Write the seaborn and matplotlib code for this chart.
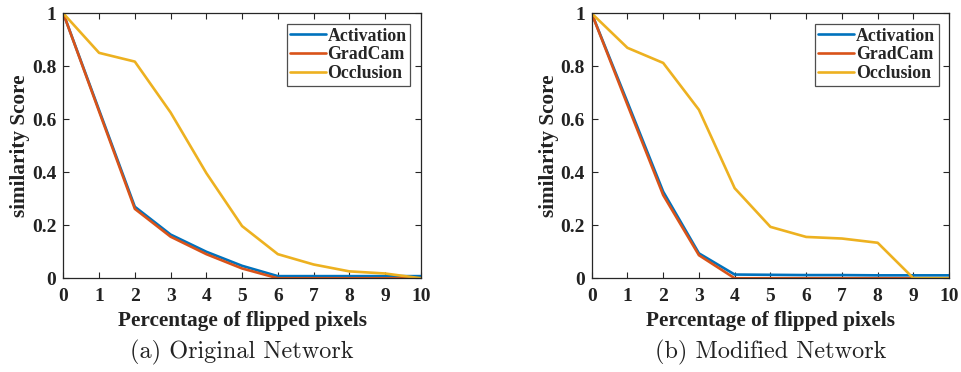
import numpy as np
import pandas as pd
import matplotlib
matplotlib.use("Agg")
import matplotlib.pyplot as plt
import seaborn as sns

# Data
pct = list(range(11))
methods = ["Activation", "GradCam", "Occlusion"]

orig_activation = [1.0, 0.635, 0.27, 0.165, 0.10, 0.047, 0.008, 0.008, 0.008, 0.008, 0.008]
orig_gradcam = [1.0, 0.63, 0.262, 0.157, 0.091, 0.037, 0.0, 0.0, 0.0, 0.0, 0.0]
orig_occlusion = [1.0, 0.851, 0.818, 0.626, 0.397, 0.197, 0.091, 0.052, 0.026, 0.018, 0.0]

mod_activation = [1.0, 0.665, 0.327, 0.094, 0.014, 0.013, 0.012, 0.012, 0.011, 0.011, 0.011]
mod_gradcam = [1.0, 0.655, 0.314, 0.087, 0.0, 0.0, 0.0, 0.0, 0.0, 0.0, 0.0]
mod_occlusion = [1.0, 0.87, 0.813, 0.636, 0.34, 0.194, 0.156, 0.15, 0.134, 0.0, 0.0]

captions = ["(a) Original Network", "(b) Modified Network"]
colors = ["#0072BD", "#D95319", "#EDB120"]


def to_long(series):
    rows = []
    for name, vals in zip(methods, series):
        for x, v in zip(pct, vals):
            rows.append({"pct": x, "score": v, "method": name})
    return pd.DataFrame(rows)


sns.set_theme(style="white")
plt.rcParams["font.family"] = ["Liberation Serif", "DejaVu Serif"]
plt.rcParams["font.weight"] = "bold"

fig = plt.figure(figsize=(9.61, 3.72), dpi=100)
panels = [
    (0.0659, [orig_activation, orig_gradcam, orig_occlusion]),
    (0.6157, [mod_activation, mod_gradcam, mod_occlusion]),
]

for (left, series), cap in zip(panels, captions):
    ax = fig.add_axes([left, 0.252, 0.372, 0.712])
    df = to_long(series)
    sns.lineplot(data=df, x="pct", y="score", hue="method", hue_order=methods,
                 palette=colors, linewidth=1.9, ax=ax, legend=True)
    ax.set_xlim(0, 10)
    ax.set_ylim(0, 1)
    ax.set_xticks(pct)
    ax.set_xticklabels([str(p) for p in pct], fontsize=14, fontweight="bold")
    ax.set_yticks([0, 0.2, 0.4, 0.6, 0.8, 1])
    ax.set_yticklabels(["0", "0.2", "0.4", "0.6", "0.8", "1"], fontsize=14, fontweight="bold")
    ax.tick_params(direction="in", length=4, width=0.8, top=True, right=True,
                   bottom=True, left=True, colors="#262626", labelcolor="#222222", pad=5)
    ax.tick_params(axis="x", pad=7)
    for sp in ax.spines.values():
        sp.set_color("#262626")
        sp.set_linewidth(0.9)
    ax.set_xlabel("Percentage of flipped pixels", fontsize=15.3, fontweight="bold",
                  labelpad=4, color="#222222")
    ax.set_ylabel("similarity Score", fontsize=15.3, fontweight="bold",
                  labelpad=1, color="#222222")
    leg = ax.legend(loc="upper right", fontsize=12.8, frameon=True, fancybox=False,
                    edgecolor="#222222", handlelength=2.0, handletextpad=0.1,
                    borderpad=0.2, labelspacing=0.1, borderaxespad=0.6)
    leg.get_frame().set_linewidth(0.9)
    for t in leg.get_texts():
        t.set_fontweight("bold")
    ax.text(0.5, -0.28, cap, transform=ax.transAxes, ha="center", va="center",
            fontsize=17.5, fontweight="normal", family=["cmr10", "DejaVu Serif"],
            color="#222222")

fig.savefig("out.png", dpi=100)
